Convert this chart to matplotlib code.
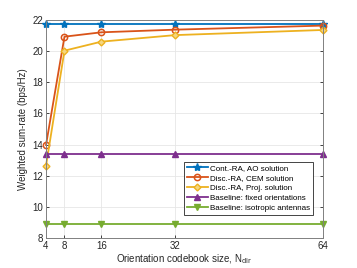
import matplotlib.pyplot as plt
import numpy as np

N_dir = [4, 8, 16, 32, 64]
cont_ao = [21.72, 21.72, 21.72, 21.72, 21.72]
disc_cem = [13.97, 20.93, 21.21, 21.38, 21.64]
disc_proj = [12.64, 20.03, 20.61, 21.03, 21.36]
fixed_orient = [13.39, 13.39, 13.39, 13.39, 13.39]
isotropic = [8.88, 8.88, 8.88, 8.88, 8.88]

labels = ['Cont.-RA, AO solution', 'Disc.-RA, CEM solution', 'Disc.-RA, Proj. solution',
          'Baseline: fixed orientations', 'Baseline: isotropic antennas']

plt.rcParams['font.family'] = ['Liberation Sans', 'DejaVu Sans']

fig = plt.figure(figsize=(3.57, 2.68), dpi=100)
ax = fig.add_axes([46/357, 30/268, 277/357, 218/268])

ax.plot(N_dir, cont_ao, color='#0072BD', marker='*', ms=6, lw=1.3, label=labels[0], clip_on=False)
ax.plot(N_dir, disc_cem, color='#D95319', marker='o', ms=4.5, mfc='none', mew=1.1, lw=1.3,
        label=labels[1], clip_on=False)
ax.plot(N_dir, disc_proj, color='#EDB120', marker='D', ms=3.5, mfc='#F5D680', lw=1.3,
        label=labels[2], clip_on=False)
ax.plot(N_dir, fixed_orient, color='#7E2F8E', marker='^', ms=4.5, lw=1.3, label=labels[3], clip_on=False)
ax.plot(N_dir, isotropic, color='#77AC30', marker='v', ms=4.5, lw=1.3, label=labels[4], clip_on=False)

ax.set_xlim(4, 64)
ax.set_ylim(8, 22)
ax.set_xticks(N_dir)
ax.set_yticks(np.arange(8, 23, 2))
ax.grid(True, color='#e6e6e6', lw=0.6)
ax.set_axisbelow(True)
for s in ax.spines.values():
    s.set_color('#808080')
    s.set_linewidth(0.7)
ax.tick_params(labelsize=7, colors='#262626', direction='in', length=2.5, width=0.6,
               top=True, right=True)
ax.tick_params(axis='both', pad=2)
ax.set_xlabel(r'Orientation codebook size, N$_{\rm dir}$', fontsize=7, color='#262626', labelpad=1)
ax.set_ylabel('Weighted sum-rate (bps/Hz)', fontsize=7, color='#262626', labelpad=3)

leg = ax.legend(loc='lower right', bbox_to_anchor=(0.964, 0.105), borderaxespad=0, fontsize=5.8,
                fancybox=False, edgecolor='#262626', framealpha=1, handlelength=2.6, borderpad=0.35,
                labelspacing=0.3, handletextpad=0.3)
leg.get_frame().set_linewidth(0.6)

fig.savefig('out.png', dpi=100)
